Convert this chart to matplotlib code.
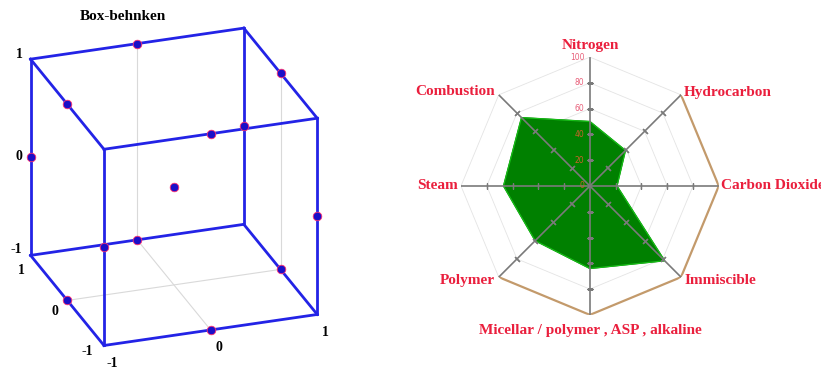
import numpy as np
import matplotlib
matplotlib.use("Agg")
import matplotlib.pyplot as plt

# ---- Box-Behnken design (left) ----
bb_points = [
    (0, 1, 1), (-1, 0, 1), (1, 0, 1), (0, -1, 1),
    (-1, 1, 0), (1, 1, 0), (1, -1, 0), (-1, -1, 0),
    (0, 1, -1), (-1, 0, -1), (1, 0, -1), (0, -1, -1),
    (0, 0, 0),
]
cube_ticks = [-1, 0, 1]

# ---- radar (right) ----
categories = ["Nitrogen", "Hydrocarbon", "Carbon Dioxide", "Immiscible",
              "Micellar / polymer , ASP , alkaline", "Polymer", "Steam", "Combustion"]
values = [50, 39, 21, 82, 64, 60, 67, 75]
rings = [20, 40, 60, 80, 100]
ring_labels = ["0", "20", "40", "60", "80", "100"]

RED = "#ea1f3d"
BLUE = "#2323e6"
serif = dict(family="Liberation Serif", weight="bold")

fig = plt.figure(figsize=(8.21, 3.67), dpi=100)
fig.patch.set_facecolor("white")

# ---------------- cube ----------------
ax3 = fig.add_axes([-0.009, -0.007, 0.43, 0.97], projection="3d")
ax3.set_proj_type("ortho")
ax3.view_init(elev=25, azim=-109)
ax3.set_xlim(-1, 1)
ax3.set_ylim(-1, 1)
ax3.set_zlim(-1, 1)
ax3.set_box_aspect((1, 1, 0.96), zoom=1.06)
ax3.set_axis_off()

# faint grid lines on the back panes
ax3.plot([0, 0], [1, 1], [-1, 1], color="#d9d9d9", lw=0.8)
ax3.plot([1, 1], [0, 0], [-1, 1], color="#d9d9d9", lw=0.8)
ax3.plot([0, 0], [-1, 1], [-1, -1], color="#d9d9d9", lw=0.8)
ax3.plot([-1, 1], [0, 0], [-1, -1], color="#d9d9d9", lw=0.8)

# cube edges
c = [-1, 1]
for a in c:
    for b in c:
        ax3.plot(c, [a, a], [b, b], color=BLUE, lw=2)
        ax3.plot([a, a], c, [b, b], color=BLUE, lw=2)
        ax3.plot([a, a], [b, b], c, color=BLUE, lw=2)

px, py, pz = zip(*bb_points)
ax3.scatter(px, py, pz, s=38, c="#1a0fc8", edgecolors="#ff3070",
            linewidths=0.6, depthshade=False, zorder=5)

z_shift = {-1: -0.04, 0: -0.09, 1: -0.05}
for t in cube_ticks:
    ax3.text(-1, 1.22, t + z_shift[t], str(t), ha="right", va="center", fontsize=10, **serif)
    ax3.text(-1.12, t * 0.9, -1.09, str(t), ha="center", va="center", fontsize=10, **serif)
    ax3.text(t, -1.22, -1.08, str(t), ha="center", va="center", fontsize=10, **serif)

fig.text(123 / 821, 1 - 16 / 367, "Box-behnken", ha="center", va="center",
         fontsize=11, **serif)

# ---------------- radar ----------------
axr = fig.add_axes([0.5615, 0.1417, 0.314, 0.703], projection="polar")
axr.set_theta_zero_location("N")
axr.set_theta_direction(-1)
axr.set_ylim(0, 100)
axr.set_xticks([])
axr.set_yticks([])
axr.grid(False)
axr.spines["polar"].set_visible(False)

n = len(categories)
theta = np.arange(n) * 2 * np.pi / n
closed = np.append(theta, theta[0])

for r in rings[:-1]:
    axr.plot(closed, [r] * (n + 1), color="#e4e4e4", lw=0.6, zorder=1)
for i in range(n):
    j = (i + 1) % n
    tan = 1 <= i <= 4
    axr.plot([theta[i], theta[j]], [100, 100],
             color="#c39a6b" if tan else "#e4e4e4", lw=1.6 if tan else 0.6, zorder=1)

axr.fill(closed, np.append(values, values[0]), color="#008000", zorder=2)
axr.plot(closed, np.append(values, values[0]), color="#18c018", lw=0.8, zorder=2)

for i, th in enumerate(theta):
    axr.plot([th, th], [0, 100], color="#7a7a7a", lw=1.2, zorder=3)
    deg = np.degrees(th)
    axr.plot([th] * 4, rings[:-1], ls="none", marker=(2, 2, 90 - deg),
             ms=5, mec="#7a7a7a", mew=0.9, zorder=3)

for k, lab in enumerate(ring_labels):
    col = "#c8642a" if k < 3 else "#e8607a"
    axr.annotate(lab, xy=(0, k * 20), xytext=(-4, 0), textcoords="offset points",
                 ha="right", va="center", fontsize=5.5, color=col, zorder=4)

label_pos = [
    (104, "center", "bottom"), (103, "left", "center"), (102, "left", "center"),
    (104, "left", "center"), (107, "center", "top"), (104, "right", "center"),
    (102, "right", "center"), (104, "right", "center"),
]
for th, lab, (r, ha, va) in zip(theta, categories, label_pos):
    axr.text(th, r, lab, ha=ha, va=va, color=RED, fontsize=11, **serif)

fig.savefig("out.png", dpi=100)
